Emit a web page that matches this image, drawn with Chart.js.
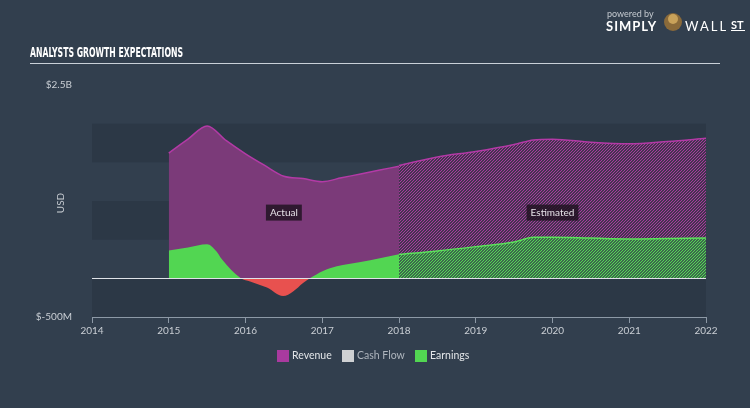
<!DOCTYPE html>
<html>
<head>
<meta charset="utf-8">
<script src="https://cdn.jsdelivr.net/npm/chart.js@4.4.1/dist/chart.umd.min.js"></script>
<style>
  html, body { margin: 0; padding: 0; background: #323f4e; }
  canvas { display: block; }
</style>
</head>
<body>
<canvas id="c" width="750" height="408"></canvas>
<script>
// ---- Data (values in billions USD) ----
const actualYears = [2015, 2015.25, 2015.5, 2015.75, 2016, 2016.25, 2016.5, 2016.75, 2017, 2017.25, 2017.5, 2017.75, 2018];
const revenueActual = [1.62, 1.80, 1.97, 1.78, 1.61, 1.46, 1.32, 1.29, 1.25, 1.30, 1.35, 1.40, 1.45];

const earningsActualYears = [2015, 2015.25, 2015.5, 2015.62, 2015.69, 2015.94, 2016.06, 2016.28, 2016.49, 2016.62, 2016.75, 2016.84, 2017.01, 2017.19, 2017.5, 2017.75, 2018];
const earningsActual = [0.36, 0.40, 0.44, 0.35, 0.25, 0.0, -0.04, -0.12, -0.23, -0.17, -0.06, 0.0, 0.095, 0.155, 0.21, 0.26, 0.31];

const estimateYears = [2018, 2018.5, 2019, 2019.5, 2019.75, 2020, 2020.5, 2021, 2021.5, 2022];
const revenueEstimate = [1.46, 1.57, 1.64, 1.73, 1.79, 1.80, 1.76, 1.74, 1.77, 1.81];
const earningsEstimate = [0.31, 0.355, 0.41, 0.47, 0.53, 0.53, 0.52, 0.51, 0.515, 0.52];

const xTickYears = [2014, 2015, 2016, 2017, 2018, 2019, 2020, 2021, 2022];
const yTickValues = [-0.5, 2.5];
const yTickLabels = ['$-500M', '$2.5B'];
const legendLabels = ['Revenue', 'Cash Flow', 'Earnings'];
const periodLabels = ['Actual', 'Estimated'];

// ---- Styles ----
const BG = '#323f4e';
const BAND = '#2c3846';
const REV = '#7b3a79';
const REV_LINE = '#b33aa6';
const EARN = '#52d652';
const EARN_LINE = '#5de05d';
const LOSS = '#e8514f';
const FONT = 'Lato, "Open Sans", sans-serif';

function pts(xs, ys) { return xs.map((x, i) => ({ x: x, y: ys[i] })); }

function hatch(stripe, base) {
  const c = document.createElement('canvas');
  c.width = 3; c.height = 3;
  const g = c.getContext('2d');
  g.fillStyle = base; g.fillRect(0, 0, 3, 3);
  g.fillStyle = stripe;
  for (let x = 0; x < 3; x++) for (let y = 0; y < 3; y++) {
    if ((x + y) % 3 === 2) g.fillRect(x, y, 1, 1);
  }
  return document.getElementById('c').getContext('2d').createPattern(c, 'repeat');
}
const revHatch = hatch('#a83a9e', '#443450');
const earnHatch = hatch('#55d855', '#3c6a4c');

const decor = {
  id: 'decor',
  beforeDraw(chart) {
    const ctx = chart.ctx;
    ctx.save();
    ctx.fillStyle = BG;
    ctx.fillRect(0, 0, chart.width, chart.height);
    // bands
    const x = chart.scales.x, y = chart.scales.y;
    const l = x.getPixelForValue(2014), r = x.getPixelForValue(2022);
    ctx.fillStyle = BAND;
    [[1.5, 2.0], [0.5, 1.0], [-0.5, 0]].forEach(([a, b]) => {
      const y1 = y.getPixelForValue(b), y2 = y.getPixelForValue(a);
      ctx.fillRect(l, y1, r - l, y2 - y1);
    });
    // title
    ctx.fillStyle = '#ffffff';
    ctx.font = 'bold 14px "Liberation Sans Narrow", "DejaVu Sans Condensed", sans-serif';
    ctx.textBaseline = 'middle';
    const t = 'ANALYSTS GROWTH EXPECTATIONS';
    const w = ctx.measureText(t).width;
    ctx.save();
    ctx.translate(30, 53);
    ctx.scale(153 / w, 1);
    ctx.fillText(t, 0, 0);
    ctx.restore();
    ctx.strokeStyle = '#c9d0d8';
    ctx.lineWidth = 1.2;
    ctx.beginPath(); ctx.moveTo(30, 63.5); ctx.lineTo(720, 63.5); ctx.stroke();
    // logo
    ctx.fillStyle = '#c5cad0';
    ctx.font = '9px ' + FONT;
    ctx.textAlign = 'left';
    ctx.fillText('powered by', 607, 14);
    ctx.fillStyle = '#ffffff';
    ctx.font = 'bold 13px ' + FONT;
    ctx.letterSpacing = '1px';
    ctx.fillText('SIMPLY', 606, 27);
    ctx.letterSpacing = '0px';
    ctx.fillStyle = '#8a6a3a';
    ctx.beginPath(); ctx.arc(673, 22, 9, 0, Math.PI * 2); ctx.fill();
    ctx.fillStyle = '#c9a25a';
    ctx.beginPath(); ctx.arc(673, 19, 5, 0, Math.PI * 2); ctx.fill();
    ctx.fillStyle = '#ffffff';
    ctx.font = '13px ' + FONT;
    ctx.letterSpacing = '2px';
    ctx.fillText('WALL', 685, 27);
    ctx.letterSpacing = '0px';
    ctx.font = 'bold 11px ' + FONT;
    ctx.fillText('ST', 731, 25);
    ctx.fillRect(731, 30, 14, 1);
    // USD
    ctx.save();
    ctx.translate(61, 203);
    ctx.rotate(-Math.PI / 2);
    ctx.textAlign = 'center';
    ctx.fillStyle = '#c8cdd3';
    ctx.font = '10px ' + FONT;
    ctx.fillText('USD', 0, 0);
    ctx.restore();
    // legend
    const items = [
      { t: legendLabels[0], c: '#a93a9f', tc: '#e2e5e8', x: 277 },
      { t: legendLabels[1], c: '#cfd1d3', tc: '#aeb5bd', x: 342 },
      { t: legendLabels[2], c: '#52d652', tc: '#e2e5e8', x: 415 }
    ];
    ctx.font = '10.5px ' + FONT;
    items.forEach(it => {
      ctx.fillStyle = it.c;
      ctx.fillRect(it.x, 350, 12, 12);
      ctx.fillStyle = it.tc;
      ctx.fillText(it.t, it.x + 15, 356);
    });
    ctx.restore();
  },
  afterDatasetsDraw(chart) {
    const ctx = chart.ctx;
    const x = chart.scales.x, y = chart.scales.y;
    ctx.save();
    // zero line
    ctx.strokeStyle = '#dfe3e8';
    ctx.lineWidth = 1.2;
    const y0 = Math.round(y.getPixelForValue(0)) + 0.5;
    ctx.beginPath();
    ctx.moveTo(x.getPixelForValue(2014), y0);
    ctx.lineTo(x.getPixelForValue(2022), y0);
    ctx.stroke();
    // period labels
    ctx.font = '10px ' + FONT;
    ctx.textAlign = 'center';
    ctx.textBaseline = 'middle';
    [[periodLabels[0], 2016.5], [periodLabels[1], 2020]].forEach(([t, v]) => {
      const cx = x.getPixelForValue(v), cy = y.getPixelForValue(0.85);
      const w = ctx.measureText(t).width + 8;
      ctx.fillStyle = 'rgba(30,18,32,0.82)';
      ctx.fillRect(cx - w / 2, cy - 8, w, 16);
      ctx.fillStyle = '#e6e2e8';
      ctx.fillText(t, cx, cy + 0.5);
    });
    ctx.restore();
  }
};

new Chart(document.getElementById('c'), {
  type: 'line',
  data: {
    datasets: [
      { label: 'Earnings (actual)', data: pts(earningsActualYears, earningsActual), order: 1,
        fill: { target: 'origin', above: EARN, below: LOSS }, borderWidth: 0, borderColor: 'rgba(0,0,0,0)',
        pointRadius: 0, cubicInterpolationMode: 'monotone' },
      { label: 'Earnings (estimate)', data: pts(estimateYears, earningsEstimate), order: 1,
        fill: 'origin', backgroundColor: earnHatch, borderColor: EARN_LINE, borderWidth: 1.5,
        pointRadius: 0, cubicInterpolationMode: 'monotone' },
      { label: 'Revenue (actual)', data: pts(actualYears, revenueActual), order: 2,
        fill: 'origin', backgroundColor: REV, borderColor: REV_LINE, borderWidth: 1.5,
        pointRadius: 0, cubicInterpolationMode: 'monotone' },
      { label: 'Revenue (estimate)', data: pts(estimateYears, revenueEstimate), order: 2,
        fill: 'origin', backgroundColor: revHatch, borderColor: REV_LINE, borderWidth: 1.5,
        pointRadius: 0, cubicInterpolationMode: 'monotone' }
    ]
  },
  options: {
    responsive: false,
    animation: false,
    devicePixelRatio: 1,
    layout: { padding: { top: 85, right: 44, left: 0, bottom: 0 } },
    plugins: { legend: { display: false }, tooltip: { enabled: false }, title: { display: false } },
    scales: {
      x: {
        type: 'linear', min: 2014, max: 2022,
        afterBuildTicks: s => { s.ticks = xTickYears.map(v => ({ value: v })); },
        afterFit: s => { s.height = 91; },
        ticks: { color: '#c9ced4', font: { family: FONT, size: 10 }, padding: 2, maxRotation: 0,
          callback: v => String(v) },
        grid: { drawOnChartArea: false, drawTicks: true, tickLength: 6, color: '#8d99a6' },
        border: { display: true, color: '#8d99a6', width: 1 }
      },
      y: {
        min: -0.5, max: 2.5,
        afterBuildTicks: s => { s.ticks = yTickValues.map(v => ({ value: v })); },
        afterFit: s => { s.width = 92; },
        ticks: { color: '#c9ced4', font: { family: FONT, size: 10 }, padding: 12,
          callback: v => yTickLabels[yTickValues.indexOf(v)] },
        grid: { display: false },
        border: { display: false }
      }
    }
  },
  plugins: [decor]
});
</script>
</body>
</html>
